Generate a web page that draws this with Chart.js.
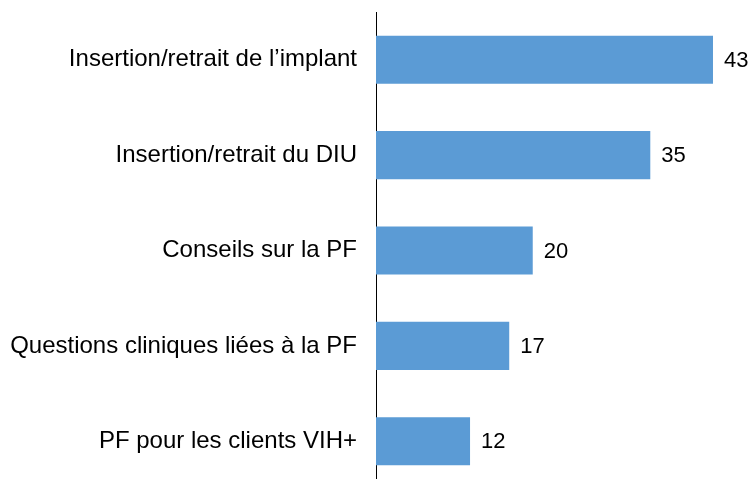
<!DOCTYPE html>
<head>
    <title>Formation PF</title>
    <meta charset="utf-8">
    <script src="https://cdn.jsdelivr.net/npm/chart.js"></script>
    <style>
        html, body { margin: 0; padding: 0; overflow: hidden; background: #fff; }
    </style>
</head>
<body>
    <div style="width: 751px; height: 489px;">
        <canvas id="myChart" width="751" height="489"></canvas>
    </div>
    <script>
        const categories = [
            'Insertion/retrait de l\u2019implant',
            'Insertion/retrait du DIU',
            'Conseils sur la PF',
            'Questions cliniques liées à la PF',
            'PF pour les clients VIH+'
        ];
        const values = [43, 35, 20, 17, 12];

        const fontFamily = '"Liberation Sans", Arial, sans-serif';

        // value written just right of each bar end
        const barLabels = {
            id: 'barLabels',
            afterDatasetsDraw(chart) {
                const ctx = chart.ctx;
                const meta = chart.getDatasetMeta(0);
                ctx.save();
                ctx.font = '22px ' + fontFamily;
                ctx.fillStyle = '#000';
                ctx.textAlign = 'left';
                ctx.textBaseline = 'middle';
                meta.data.forEach((bar, i) => {
                    ctx.fillText(values[i], bar.x + 11, bar.y + 1);
                });
                ctx.restore();
            }
        };

        const ctx = document.getElementById('myChart');
        new Chart(ctx, {
            type: 'bar',
            data: {
                labels: categories,
                datasets: [{
                    data: values,
                    backgroundColor: '#5B9BD5',
                    borderWidth: 0,
                    categoryPercentage: 0.504,
                    barPercentage: 1
                }]
            },
            options: {
                indexAxis: 'y',
                responsive: false,
                animation: false,
                layout: { padding: { top: 12, right: 0, bottom: 0, left: 0 } },
                plugins: {
                    legend: { display: false },
                    tooltip: { enabled: false }
                },
                scales: {
                    x: {
                        display: false,
                        min: 0,
                        max: 47.85
                    },
                    y: {
                        afterFit(scale) {
                            scale.width = 376;
                            scale.paddingTop = 0;
                            scale.paddingBottom = 0;
                        },
                        grid: { display: false, drawTicks: false },
                        border: { display: true, color: '#000', width: 1 },
                        ticks: {
                            padding: 19,
                            color: '#000',
                            font: { family: fontFamily, size: 24 }
                        }
                    }
                }
            },
            plugins: [barLabels]
        });
    </script>
</body>
</html>
